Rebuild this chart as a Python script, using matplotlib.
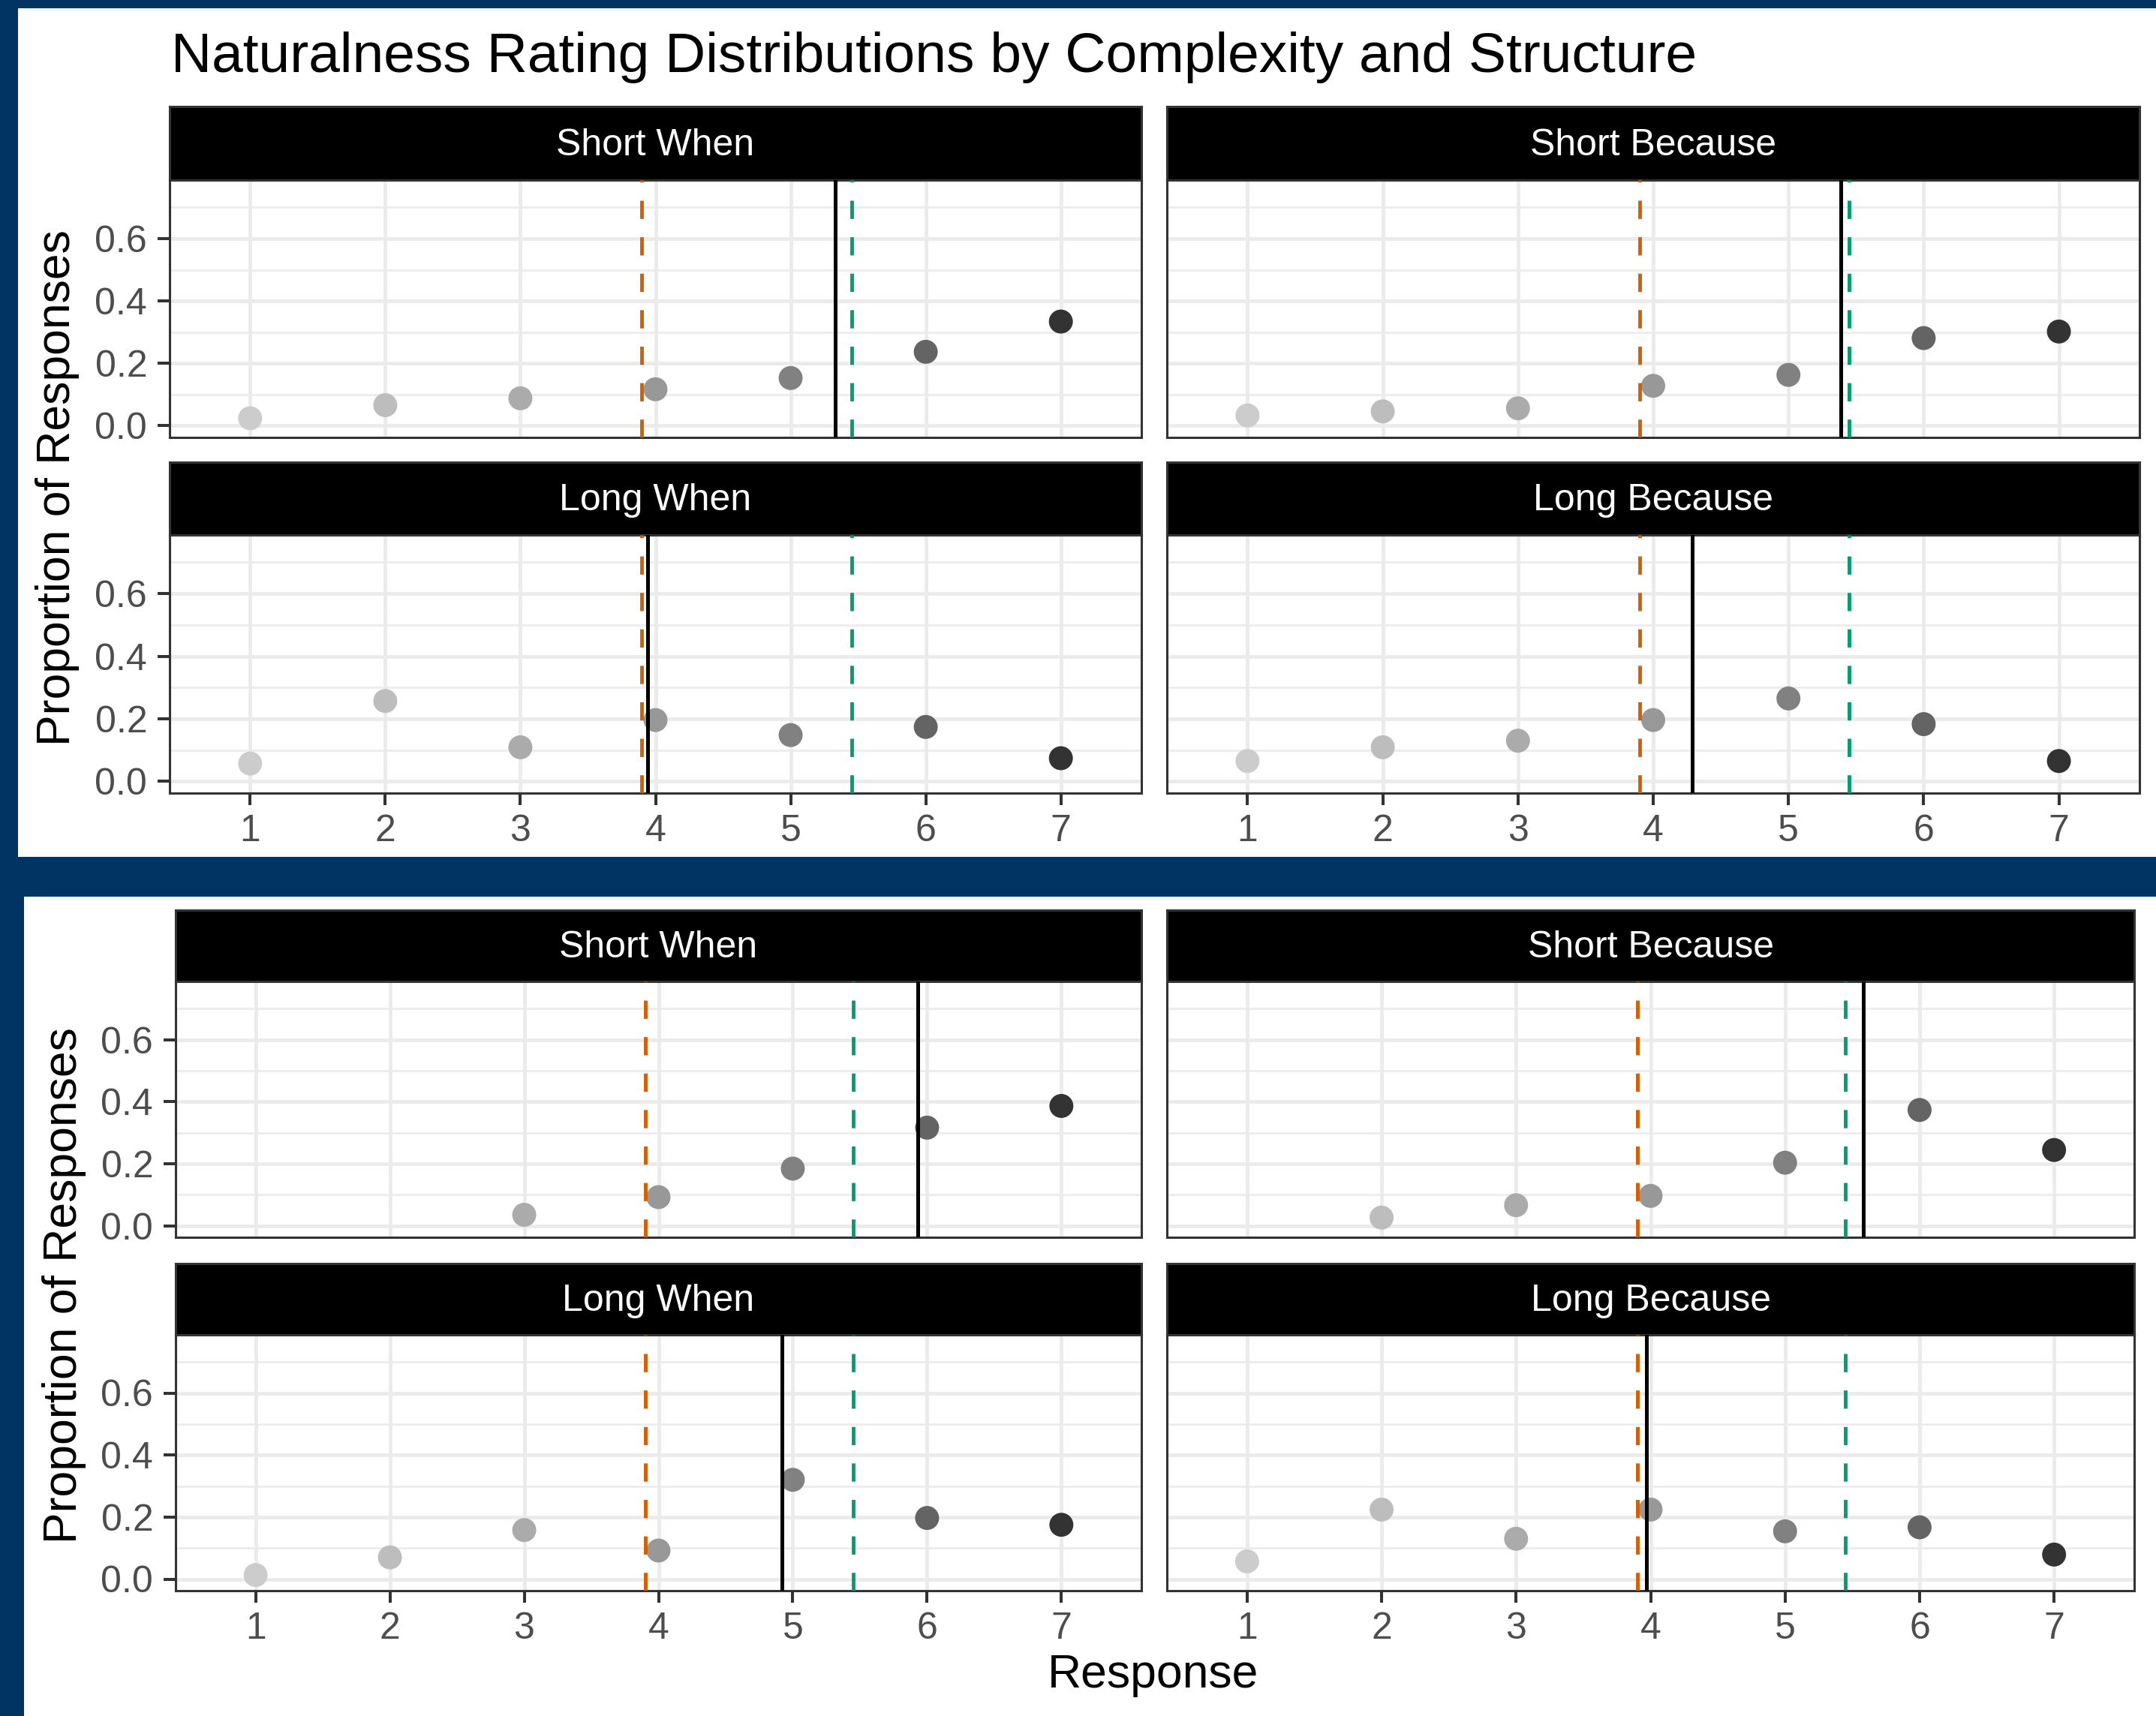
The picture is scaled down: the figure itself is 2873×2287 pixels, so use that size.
import numpy as np
import matplotlib
matplotlib.use("Agg")
import matplotlib.pyplot as plt
from matplotlib.patches import Rectangle

plt.rcParams['font.family'] = ['Liberation Sans', 'DejaVu Sans']

# ---------------- data ----------------
responses = [1, 2, 3, 4, 5, 6, 7]
tick_labels_x = ['1', '2', '3', '4', '5', '6', '7']
y_ticks = [0.0, 0.2, 0.4, 0.6]
y_tick_labels = ['0.0', '0.2', '0.4', '0.6']
panel_titles = ['Short When', 'Short Because', 'Long When', 'Long Because']

# grey shades per response level (1 = lightest, 7 = darkest)
point_colors = ['#CCCCCC', '#BDBDBD', '#ABABAB', '#989898', '#818181', '#646464', '#333333']

# reference lines shared by all panels
low_reference = 3.9
high_reference = 5.45

# study 1: proportion of responses at each rating
s1_short_when = [0.024, 0.066, 0.088, 0.117, 0.153, 0.237, 0.334]
s1_short_because = [0.033, 0.046, 0.056, 0.128, 0.163, 0.281, 0.302]
s1_long_when = [0.057, 0.257, 0.109, 0.196, 0.148, 0.174, 0.074]
s1_long_because = [0.065, 0.109, 0.130, 0.196, 0.265, 0.183, 0.065]
s1_means = [5.33, 5.39, 3.94, 4.29]

# study 2
s2_short_when = [np.nan, np.nan, 0.035, 0.092, 0.184, 0.316, 0.386]
s2_short_because = [np.nan, 0.026, 0.066, 0.096, 0.203, 0.373, 0.244]
s2_long_when = [0.013, 0.070, 0.158, 0.092, 0.320, 0.197, 0.175]
s2_long_because = [0.057, 0.224, 0.130, 0.224, 0.154, 0.167, 0.079]
s2_means = [5.93, 5.58, 4.92, 3.97]

# ---------------- layout ----------------
W, H = 2873, 2287
BG = '#013462'
TICK_COL = '#4D4D4D'
GRID_COL = '#EBEBEB'
EDGE_COL = '#333333'
ORANGE = '#D55E00'
GREEN = '#009E73'

fig = plt.figure(figsize=(W / 100, H / 100), dpi=100, facecolor=BG)


def box(x0, y0, x1, y1):
    return [x0 / W, 1 - y1 / H, (x1 - x0) / W, (y1 - y0) / H]


def white_sheet(x0, y0, x1, y1):
    fig.add_artist(Rectangle((x0 / W, 1 - y1 / H), (x1 - x0) / W, (y1 - y0) / H,
                             transform=fig.transFigure, facecolor='white',
                             edgecolor='none', zorder=0))


def draw_block(cols, rows, series, means):
    for i, (vals, title, mean) in enumerate(zip(series, panel_titles, means)):
        r, c = divmod(i, 2)
        x0, x1 = cols[c]
        s0, p0, p1 = rows[r]

        # facet strip
        sax = fig.add_axes(box(x0, s0, x1, p0))
        sax.set_facecolor('black')
        sax.set_xticks([])
        sax.set_yticks([])
        for sp in sax.spines.values():
            sp.set_color(EDGE_COL)
            sp.set_linewidth(2.2)
        sax.text(0.5, 0.47, title, color='white', fontsize=36,
                 ha='center', va='center', transform=sax.transAxes)

        # panel
        ax = fig.add_axes(box(x0, p0, x1, p1))
        ax.set_xlim(0.404, 7.596)
        ax.set_ylim(-0.0375, 0.7875)
        ax.set_xticks(responses)
        ax.set_yticks(y_ticks)
        ax.set_yticks([0.1, 0.3, 0.5, 0.7], minor=True)
        ax.grid(True, which='major', color=GRID_COL, lw=3.4, zorder=0)
        ax.grid(True, which='minor', axis='y', color=GRID_COL, lw=1.8, zorder=0)
        ax.set_axisbelow(True)
        for sp in ax.spines.values():
            sp.set_color(EDGE_COL)
            sp.set_linewidth(2.2)
        ax.tick_params(which='minor', length=0)
        ax.tick_params(which='major', direction='out', length=11.5, width=2.9,
                       color=EDGE_COL, labelsize=36, labelcolor=TICK_COL)
        ax.tick_params(axis='y', pad=10)
        ax.tick_params(axis='x', pad=9)
        if c == 0:
            ax.set_yticklabels(y_tick_labels)
        else:
            ax.tick_params(axis='y', which='both', length=0, labelleft=False)
        if r == 1:
            ax.set_xticklabels(tick_labels_x)
        else:
            ax.tick_params(axis='x', which='both', length=0, labelbottom=False)

        ax.scatter(responses, vals, s=23 ** 2, c=point_colors,
                   edgecolors='none', zorder=3)
        ax.axvline(mean, color='black', lw=3.6, zorder=4)
        ax.axvline(low_reference, color=ORANGE, lw=3.5,
                   ls=(0, (5, 5)), zorder=4)
        ax.axvline(high_reference, color=GREEN, lw=3.5,
                   ls=(0, (5, 5)), zorder=4)


# ---- upper figure ----
white_sheet(24, 11, W, 1142)
fig.text(228 / W, 1 - 96 / H,
         'Naturalness Rating Distributions by Complexity and Structure',
         fontsize=54, ha='left', va='baseline', color='black')
draw_block(cols=[(226, 1521), (1555, 2851)],
           rows=[(142, 240, 583), (616, 713, 1057)],
           series=[s1_short_when, s1_short_because, s1_long_when, s1_long_because],
           means=s1_means)
fig.text(77 / W, 1 - 650 / H, 'Proportion of Responses', rotation=90,
         fontsize=45, ha='center', va='center')

# ---- lower figure ----
white_sheet(32, 1195, W, H)
draw_block(cols=[(234, 1521), (1555, 2844)],
           rows=[(1213, 1308, 1649), (1684, 1779, 2120)],
           series=[s2_short_when, s2_short_because, s2_long_when, s2_long_because],
           means=s2_means)
fig.text(86 / W, 1 - 1713 / H, 'Proportion of Responses', rotation=90,
         fontsize=45, ha='center', va='center')
fig.text(1537 / W, 1 - 2249 / H, 'Response', fontsize=45,
         ha='center', va='baseline')

fig.savefig('out.png', dpi=100, facecolor=BG)
